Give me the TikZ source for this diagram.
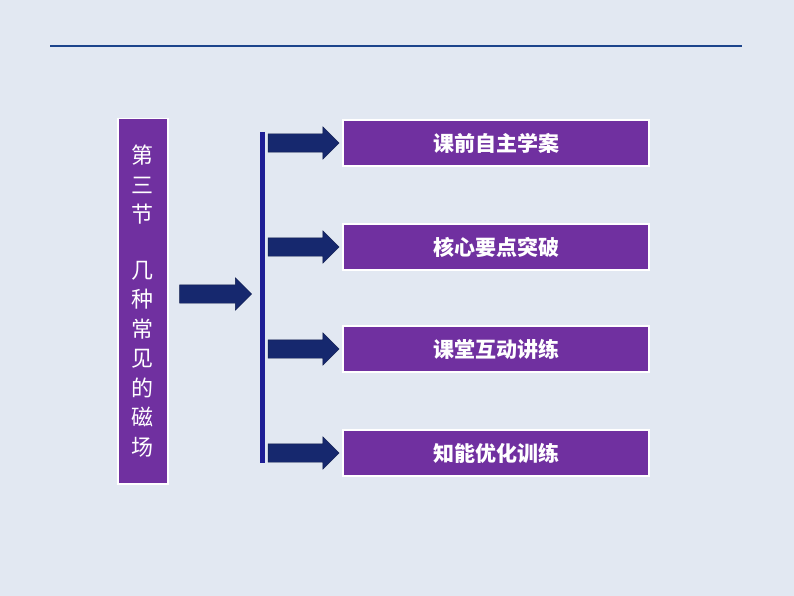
\documentclass[tikz,border=0pt]{standalone}
\usepackage{fontspec}
\newfontfamily\cjk{Noto Sans CJK SC}
\usetikzlibrary{shapes.arrows,positioning}
\definecolor{bgblue}{RGB}{226,232,242}
\definecolor{navy}{RGB}{22,40,110}
\definecolor{linkblue}{RGB}{30,30,150}
\definecolor{topline}{RGB}{28,68,140}
\definecolor{boxpurple}{RGB}{112,48,160}
\tikzset{
  itembox/.style={draw=white, line width=1.5pt, fill=boxpurple, minimum width=306pt,
    minimum height=46pt, text=white, font=\cjk\bfseries\fontsize{21}{24}\selectfont},
  blockarrow/.style={single arrow, fill=navy, draw=navy!70!black, minimum height=72pt,
    inner xsep=0pt, inner ysep=9pt, single arrow head extend=7pt, single arrow tip angle=90},
}
\begin{document}
\begin{tikzpicture}[x=1pt,y=-1pt]
  \useasboundingbox (0,0) rectangle (794,596);
  \fill[bgblue] (0,0) rectangle (794,596);
  \draw[topline, line width=2pt] (50,46) -- (742,46);
  % title box
  \node[draw=white, line width=1.5pt, fill=boxpurple, minimum width=50pt, minimum height=365pt,
    anchor=north west, text=white, align=center, text width=30pt,
    font=\cjk\fontsize{22}{29.5}\selectfont] (title) at (117,118)
    {第\\三\\节\\[26pt]几\\种\\常\\见\\的\\磁\\场};
  % main arrow and bar
  \node[blockarrow, minimum height=72pt] (main) at (211,294) {};
  \draw[linkblue, line width=5pt] (262,132) coordinate (bartop) -- (262,463) coordinate (barbot);
  % items
  \foreach \y/\t [count=\i] in {143/课前自主学案, 247/核心要点突破, 349/课堂互动讲练, 453/知能优化训练} {
    \node[itembox] (item\i) at (496,\y) {\t};
    \node[blockarrow, minimum height=71pt] (arr\i) at (299,\y) {};
  }
\end{tikzpicture}
\end{document}
